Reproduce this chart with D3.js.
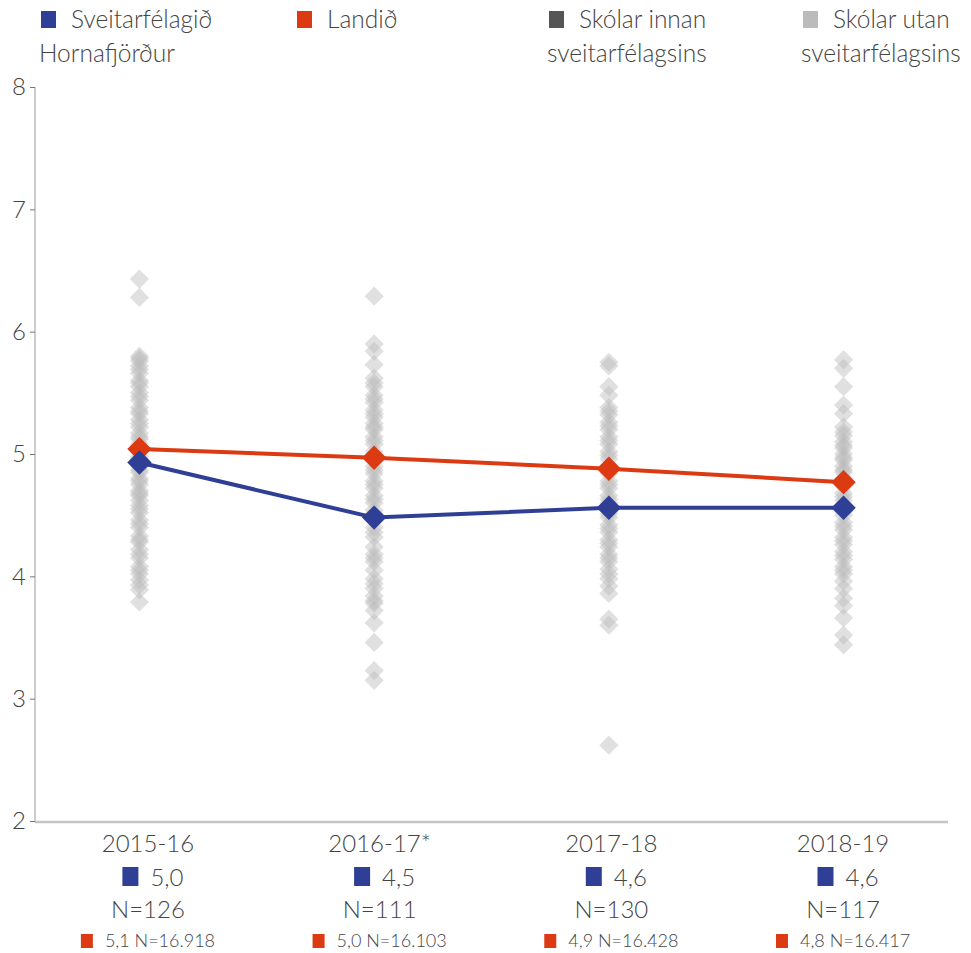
<!DOCTYPE html>
<html>
<head>
<meta charset="utf-8">
<script src="https://cdn.jsdelivr.net/npm/d3@7"></script>
<style>
  body { margin: 0; background: #fff; }
  svg text { font-family: Lato, "Open Sans", sans-serif; font-weight: 300; fill: #444; }
</style>
</head>
<body>
<svg id="chart"></svg>
<script>
const width = 971;
const height = 953;

// categories and series
const years = ["2015-16", "2016-17*", "2017-18", "2018-19"];
const municipality = [4.93, 4.48, 4.56, 4.56];
const national = [5.04, 4.97, 4.88, 4.77];
const municipalityLabels = ["5,0", "4,5", "4,6", "4,6"];
const municipalityN = ["N=126", "N=111", "N=130", "N=117"];
const nationalLabels = ["5,1 N=16.918", "5,0 N=16.103", "4,9 N=16.428", "4,8 N=16.417"];
const yTicks = [2, 3, 4, 5, 6, 7, 8];

// other schools (outside the municipality), one list per year
const schools1516 = [6.43, 6.28, 5.80, 5.78, 5.76, 5.72, 5.69, 5.66, 5.60, 5.58, 5.55, 5.50, 5.47,
  5.44, 5.38, 5.35, 5.33, 5.28, 5.25, 5.22, 5.17, 5.14, 5.12, 5.08, 5.05, 5.03, 4.98, 4.96, 4.94,
  4.90, 4.87, 4.85, 4.80, 4.78, 4.75, 4.70, 4.68, 4.66, 4.62, 4.58, 4.55, 4.52, 4.46, 4.43, 4.40,
  4.33, 4.30, 4.28, 4.22, 4.18, 4.15, 4.08, 4.05, 4.02, 3.97, 3.93, 3.89, 3.79];
const schools1617 = [6.29, 5.90, 5.84, 5.73, 5.62, 5.58, 5.55, 5.48, 5.45, 5.42, 5.36, 5.33, 5.30,
  5.25, 5.22, 5.20, 5.14, 5.11, 5.08, 5.02, 4.99, 4.96, 4.90, 4.87, 4.84, 4.78, 4.75, 4.72, 4.66,
  4.63, 4.60, 4.54, 4.51, 4.48, 4.40, 4.36, 4.32, 4.24, 4.18, 4.15, 4.12, 4.05, 3.98, 3.94, 3.90,
  3.84, 3.80, 3.78, 3.72, 3.62, 3.46, 3.23, 3.15];
const schools1718 = [5.75, 5.72, 5.55, 5.48, 5.38, 5.35, 5.32, 5.26, 5.23, 5.20, 5.14, 5.11, 5.08,
  5.02, 4.99, 4.96, 4.90, 4.87, 4.84, 4.78, 4.75, 4.72, 4.66, 4.63, 4.60, 4.54, 4.51, 4.48, 4.42,
  4.39, 4.36, 4.30, 4.27, 4.24, 4.18, 4.15, 4.12, 4.06, 4.02, 3.98, 3.92, 3.86, 3.65, 3.60, 2.62];
const schools1819 = [5.77, 5.70, 5.55, 5.40, 5.33, 5.22, 5.18, 5.15, 5.10, 5.07, 5.05, 5.00, 4.97,
  4.95, 4.90, 4.87, 4.85, 4.80, 4.77, 4.74, 4.68, 4.65, 4.62, 4.56, 4.53, 4.50, 4.44, 4.41, 4.38,
  4.32, 4.29, 4.26, 4.20, 4.17, 4.14, 4.08, 4.05, 4.02, 3.96, 3.90, 3.82, 3.76, 3.66, 3.52, 3.44];
const otherSchools = [schools1516, schools1617, schools1718, schools1819];

const legendItems = [
  { lines: ["Sveitarfélagið", "Hornafjörður"], color: "#2f3f96", x: 41 },
  { lines: ["Landið"], color: "#dc3a12", x: 297 },
  { lines: ["Skólar innan", "sveitarfélagsins"], color: "#555555", x: 549 },
  { lines: ["Skólar utan", "sveitarfélagsins"], color: "#bbbbbb", x: 803 }
];

const blue = "#2f3f96";
const red = "#dc3a12";

const svg = d3.select("#chart")
              .attr("width", width)
              .attr("height", height);

const x = d3.scalePoint()
            .domain(years)
            .range([35, 948])
            .padding(0.445);

// the category labels sit on a slightly different grid than the marks
const xLabel = d3.scalePoint()
                 .domain(years)
                 .range([43, 948])
                 .padding(0.453);

const y = d3.scaleLinear()
            .domain([2, 8])
            .range([821, 87]);

// axes
svg.append("line")
   .attr("x1", 35).attr("x2", 35)
   .attr("y1", y(8)).attr("y2", y(2))
   .attr("stroke", "#bbb").attr("stroke-width", 1.5);

svg.append("line")
   .attr("x1", 35).attr("x2", 948)
   .attr("y1", y(2) + 1).attr("y2", y(2) + 1)
   .attr("stroke", "#c4c4c4").attr("stroke-width", 2.5);

const yAxis = svg.append("g")
   .attr("transform", "translate(35,0)")
   .call(d3.axisLeft(y).tickValues(yTicks).tickSize(5).tickPadding(4).tickFormat(d3.format("d")));
yAxis.select(".domain").remove();
yAxis.selectAll(".tick line").attr("stroke", "#777");
yAxis.selectAll(".tick text")
     .style("font-size", "24px")
     .attr("fill", "#444");

// grey diamonds for other schools
const diamond = d3.symbol().type(d3.symbolDiamond2).size(235);

otherSchools.forEach((vals, i) => {
  svg.append("g")
     .selectAll("path")
     .data(vals)
     .enter()
     .append("path")
     .attr("d", diamond)
     .attr("transform", d => `translate(${x(years[i])},${y(d)})`)
     .attr("fill", "#bbbbbb")
     .attr("fill-opacity", 0.45);
});

// lines
const line = d3.line()
               .x((d, i) => x(years[i]))
               .y(d => y(d));

svg.append("path")
   .datum(national)
   .attr("d", line)
   .attr("fill", "none")
   .attr("stroke", red)
   .attr("stroke-width", 4);

svg.append("path")
   .datum(municipality)
   .attr("d", line)
   .attr("fill", "none")
   .attr("stroke", blue)
   .attr("stroke-width", 4);

const bigDiamond = d3.symbol().type(d3.symbolDiamond2).size(380);

svg.append("g").selectAll("path")
   .data(national)
   .enter()
   .append("path")
   .attr("d", bigDiamond)
   .attr("transform", (d, i) => `translate(${x(years[i])},${y(d)})`)
   .attr("fill", red);

svg.append("g").selectAll("path")
   .data(municipality)
   .enter()
   .append("path")
   .attr("d", bigDiamond)
   .attr("transform", (d, i) => `translate(${x(years[i])},${y(d)})`)
   .attr("fill", blue);

// category labels below the axis
const cat = svg.append("g").selectAll("g")
   .data(years)
   .enter()
   .append("g")
   .attr("transform", d => `translate(${xLabel(d)},0)`);

cat.append("text")
   .attr("y", 852)
   .attr("text-anchor", "middle")
   .style("font-size", "24px")
   .text(d => d);

cat.each(function(d, i) {
  const g = d3.select(this);
  const t = g.append("text")
     .attr("x", 0)
     .attr("y", 886)
     .style("font-size", "24px")
     .text(municipalityLabels[i]);
  const w = t.node().getComputedTextLength();
  const total = 16 + 12 + w;
  const left = -total / 2 + 5;
  g.append("rect")
   .attr("x", left)
   .attr("y", 867)
   .attr("width", 16)
   .attr("height", 19)
   .attr("fill", blue);
  t.attr("x", left + 28);

  g.append("text")
   .attr("y", 918)
   .attr("text-anchor", "middle")
   .style("font-size", "24px")
   .text(municipalityN[i]);

  const t2 = g.append("text")
     .attr("y", 947)
     .style("font-size", "18px")
     .text(nationalLabels[i]);
  const w2 = t2.node().getComputedTextLength();
  const total2 = 12 + 12 + w2;
  g.append("rect")
   .attr("x", -total2 / 2)
   .attr("y", 934)
   .attr("width", 12)
   .attr("height", 14)
   .attr("fill", red);
  t2.attr("x", -total2 / 2 + 24);
});

// legend
const legend = svg.append("g").selectAll("g")
   .data(legendItems)
   .enter()
   .append("g")
   .attr("transform", d => `translate(${d.x},0)`);

legend.append("rect")
   .attr("x", 0)
   .attr("y", 11)
   .attr("width", 15)
   .attr("height", 17)
   .attr("fill", d => d.color);

legend.each(function(d) {
  const g = d3.select(this);
  d.lines.forEach((l, i) => {
    g.append("text")
     .attr("x", i === 0 ? 30 : -2)
     .attr("y", i === 0 ? 28 : 62)
     .style("font-size", "24.5px")
     .text(l);
  });
});
</script>
</body>
</html>
